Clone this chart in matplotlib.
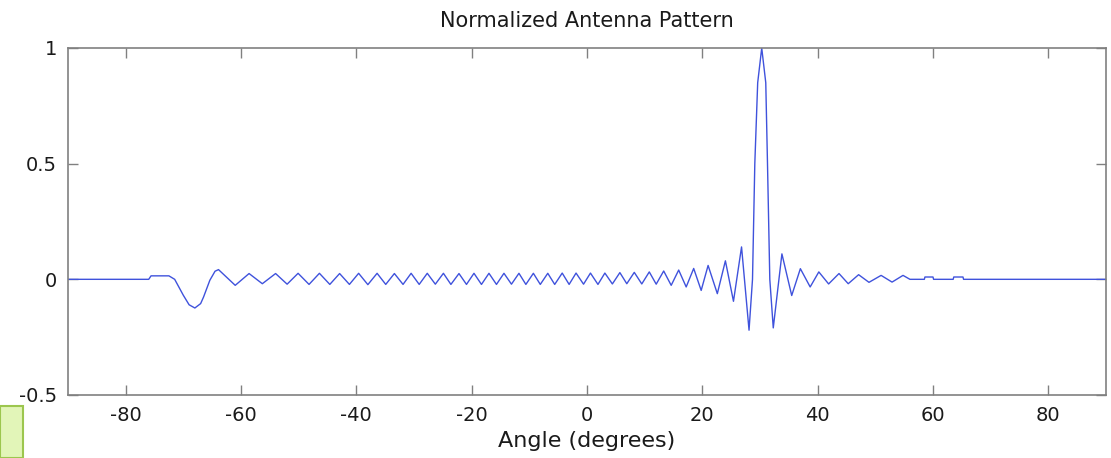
import matplotlib.pyplot as plt
from matplotlib.patches import Rectangle

# angle (deg) and normalized pattern value
angle_deg = [-90.0, -76.0, -75.6, -72.5, -71.5, -70.0, -69.0, -68.0, -67.0, -66.5, -65.4,
             -64.5, -63.9, -61.0, -58.6, -56.3, -54.0, -52.0,
             -50.1, -48.2, -46.4, -44.6, -42.9, -41.2, -39.6, -38.0, -36.4, -34.9,
             -33.4, -31.9, -30.5, -29.1, -27.7, -26.3, -24.9, -23.6, -22.2, -20.9,
             -19.6, -18.3, -17.0, -15.7, -14.4, -13.1, -11.8, -10.6, -9.3, -8.1,
             -6.8, -5.6, -4.3, -3.1, -1.9, -0.6, 0.6, 1.9, 3.1,
             4.4, 5.7, 6.9, 8.2, 9.5, 10.8, 12.0, 13.3, 14.6, 15.9, 17.2, 18.5,
             19.8, 21.0, 22.6, 24.0, 25.4, 26.8, 28.1,
             28.7, 29.1, 29.6, 30.3, 31.0, 31.3, 31.7, 32.3,
             33.8, 35.5, 37.0, 38.7, 40.2, 41.9, 43.7, 45.3, 47.1, 48.9, 51.0, 52.9, 54.8,
             56.0, 58.5, 58.6, 60.0, 60.1, 63.5, 63.6, 65.2, 65.3, 90.0]
pattern = [0.0, 0.0, 0.015, 0.015, 0.0, -0.069, -0.110, -0.124, -0.105, -0.077, -0.004,
           0.035, 0.042, -0.026, 0.025, -0.019, 0.025, -0.021,
           0.026, -0.022, 0.026, -0.022, 0.025, -0.022, 0.026, -0.023, 0.026, -0.022,
           0.025, -0.022, 0.026, -0.022, 0.026, -0.021, 0.026, -0.022, 0.025, -0.022,
           0.026, -0.022, 0.026, -0.022, 0.026, -0.021, 0.026, -0.022, 0.026, -0.022,
           0.026, -0.022, 0.027, -0.022, 0.027, -0.021, 0.027, -0.022, 0.027,
           -0.020, 0.029, -0.019, 0.030, -0.020, 0.032, -0.021, 0.036, -0.026, 0.040,
           -0.033, 0.047, -0.048, 0.060, -0.062, 0.080, -0.095, 0.140, -0.220,
           0.0, 0.5, 0.85, 1.0, 0.85, 0.5, 0.0, -0.21,
           0.11, -0.07, 0.046, -0.033, 0.032, -0.020, 0.025, -0.019, 0.020, -0.013,
           0.017, -0.012, 0.017,
           0.0, 0.0, 0.01, 0.01, 0.0, 0.0, 0.01, 0.01, 0.0, 0.0]

x_ticks = [-80, -60, -40, -20, 0, 20, 40, 60, 80]
y_ticks = [-0.5, 0, 0.5, 1]
y_tick_labels = ["-0.5", "0", "0.5", "1"]

frame_color = "#808080"
text_color = "#1a1a1a"

fig = plt.figure(figsize=(11.11, 4.58), dpi=100)
ax = fig.add_axes([0.0612, 0.1376, 0.9343, 0.7576])

ax.plot(angle_deg, pattern, color="#3f52dc", linewidth=1.0, solid_joinstyle="round")

ax.set_xlim(-90, 90)
ax.set_ylim(-0.5, 1)
ax.set_xticks(x_ticks)
ax.set_xticklabels([str(t) for t in x_ticks])
ax.set_yticks(y_ticks)
ax.set_yticklabels(y_tick_labels)

for spine in ax.spines.values():
    spine.set_color(frame_color)
    spine.set_linewidth(1.2)
ax.tick_params(direction="in", length=7, width=1, color=frame_color,
               top=True, right=True, labelsize=14, labelcolor=text_color, pad=8)

ax.set_title("Normalized Antenna Pattern", fontsize=15, color=text_color, pad=15)
ax.set_xlabel("Angle (degrees)", fontsize=16, color=text_color, labelpad=4)

# green slide box poking in at the bottom-left corner
fig.patches.append(Rectangle((0.0, 0.0), 23 / 1111, 52 / 458, transform=fig.transFigure,
                             facecolor="#e2f5b8", edgecolor="#9cc64e", linewidth=1.5))

plt.savefig("out.png", dpi=100)
plt.close()
